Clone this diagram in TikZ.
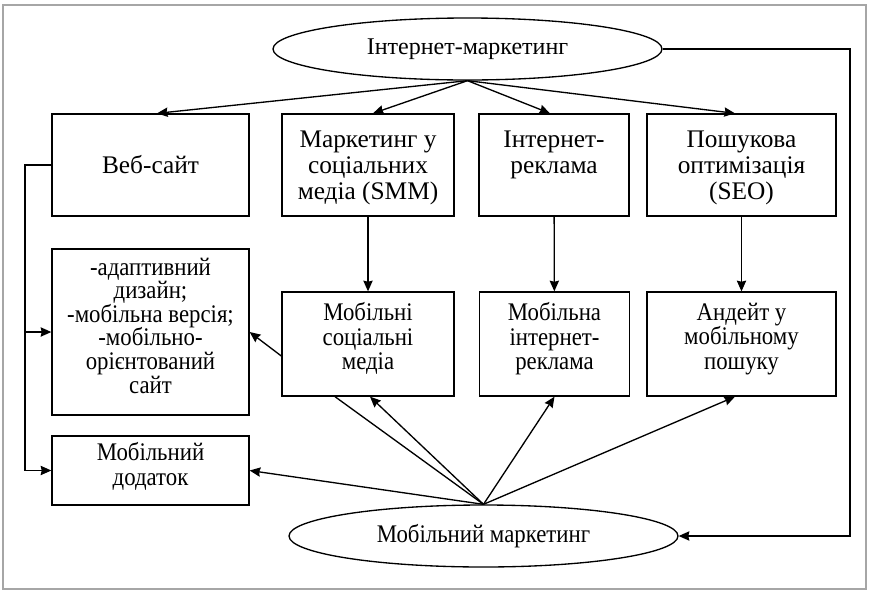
\documentclass[tikz,border=0pt]{standalone}
\usepackage{fontspec}
\setmainfont{Liberation Serif}
\newfontfamily\narrowserif[FakeStretch=0.9]{Liberation Serif}
\usetikzlibrary{arrows.meta}
\usetikzlibrary{positioning}
\usetikzlibrary{shapes.geometric}

\begin{document}
\begin{tikzpicture}[->, >={Stealth[length=8pt, width=7pt, inset=0.8pt]}, x=0.75pt, y=-0.75pt, line width=1pt]
    \tikzstyle{box}=[draw=black, rectangle, inner sep=0pt]
    \tikzstyle{oval}=[draw=black, ellipse, inner sep=0pt, minimum width=291.75pt, minimum height=46.5pt]
    \tikzstyle{boxtext}=[align=center, inner sep=2pt, font=\narrowserif\fontsize{19}{18.4}\selectfont]
    \tikzstyle{toptext}=[align=center, inner sep=2pt, font=\fontsize{19}{19.5}\selectfont]

    \useasboundingbox (0,0) rectangle (869,590);
    \draw[-, gray!70, line width=1.1pt] (3,5) rectangle (866,589);

    \node[oval, font=\fontsize{18}{18}\selectfont] (inet) at (467.5,49)  {Інтернет-маркетинг};
    \node[oval, font=\narrowserif\fontsize{19}{18}\selectfont] (mob)  at (483.5,536) {Мобільний маркетинг};

    \node[box, toptext, minimum width=147.75pt, minimum height=76.5pt] (web) at (150.5,165) {Веб-сайт};
    \node[box, minimum width=129pt, minimum height=76.5pt]    (smm) at (368,165) {};
    \node[toptext, below=10.5pt of smm.north]   (smmtext) {Маркетинг у\\соціальних\\медіа (SMM)};
    \node[box, minimum width=112.5pt, minimum height=76.5pt]  (iad) at (554,165) {};
    \node[toptext, below=10.5pt of iad.north]   (iadtext) {Інтернет-\\реклама};
    \node[box, minimum width=141.75pt, minimum height=76.5pt] (seo) at (741.5,165) {};
    \node[toptext, below=10.5pt of seo.north]   (seotext) {Пошукова\\оптимізація\\(SEO)};

    \node[box, minimum width=147.75pt, minimum height=124.5pt] (adapt) at (150.5,332) {};
    \node[boxtext, font=\narrowserif\fontsize{19}{17.7}\selectfont, below=4.5pt of adapt.north] (adapttext) {-адаптивний\\дизайн;\\-мобільна версія;\\-мобільно-\\орієнтований\\сайт};
    \node[box, minimum width=129pt, minimum height=78pt]      (msm) at (368,344) {};
    \node[boxtext, below=6pt of msm.north]      (msmtext) {Мобільні\\соціальні\\медіа};
    \node[box, minimum width=112.5pt, minimum height=78pt]    (miad) at (554.5,344) {};
    \node[boxtext, below=6pt of miad.north]     (miadtext) {Мобільна\\інтернет-\\реклама};
    \node[box, minimum width=141.75pt, minimum height=78pt]   (msearch) at (741.5,344) {};
    \node[boxtext, below=6pt of msearch.north]  (msearchtext) {Андейт у\\мобільному\\пошуку};
    \node[box, minimum width=147.75pt, minimum height=51.75pt] (app) at (150.5,470.5) {};
    \node[boxtext, font=\narrowserif\fontsize{19}{18.75}\selectfont, below=3pt of app.north] (apptext) {Мобільний\\додаток};

    \coordinate (bus) at (25,165);
    \coordinate (loop) at (850,49);

    \path
    (inet.south)
      edge ([xshift=4.9pt]web.north)
      edge ([xshift=3.75pt]smm.north)
      edge ([xshift=-3pt]iad.north)
      edge ([xshift=-4.9pt]seo.north)
    (smm) edge (msm)
    (iad) edge (miad)
    (seo) edge (msearch)
    ([yshift=-9pt]msm.west) edge (adapt.east)
    (mob.north)
      edge (app.east)
      edge ([xshift=1.5pt]msm.south)
      edge[-] ([xshift=-24.75pt]msm.south)
      edge (miad.south)
      edge ([xshift=-4.9pt]msearch.south);

    \draw (web.west) -- (bus) |- (app.west);
    \draw (bus |- adapt.west) -- (adapt.west);
    \draw (inet.east) -- (loop) |- (mob.east);
\end{tikzpicture}
\end{document}
